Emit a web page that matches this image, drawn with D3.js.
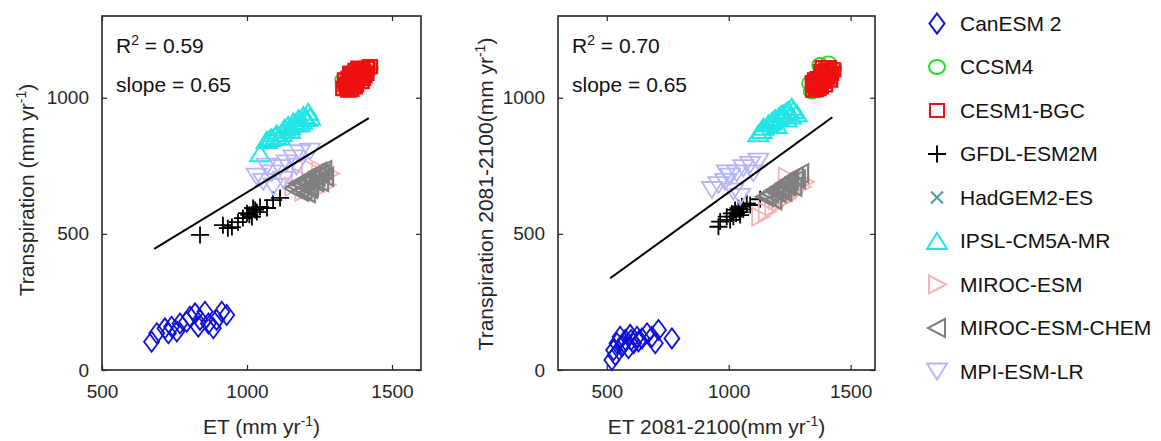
<!DOCTYPE html>
<html>
<head>
<meta charset="utf-8">
<script src="https://cdn.jsdelivr.net/npm/d3@7"></script>
<style>
  body { margin: 0; background: #fff; }
  svg { display: block; font-family: Arial, "Liberation Sans", Helvetica, sans-serif; }
</style>
</head>
<body>
<svg id="chart" width="1161" height="441"></svg>
<script>
// models, in legend order
const models = ['CanESM 2', 'CCSM4', 'CESM1-BGC', 'GFDL-ESM2M', 'HadGEM2-ES',
  'IPSL-CM5A-MR', 'MIROC-ESM', 'MIROC-ESM-CHEM', 'MPI-ESM-LR'];

const xTicksLeft = [500, 1000, 1500];
const xTicksRight = [500, 1000, 1500];
const yTicks = [0, 500, 1000];
const r2Text = ['0.59', '0.70'];
const slopeText = ['0.65', '0.65'];

// left panel: [ET, transpiration]
const canesmLeft = [[671,104],[689,135],[717,153],[740,159],[758,141],[769,171],[803,196],[821,208],[838,184],
  [855,214],[867,171],[884,153],[895,184],[913,214],[930,202],[832,159],[729,135],[792,177]];
const ccsmLeft = [[1418,1114],[1401,1102],[1332,1065],[1424,1108],[1344,1040],[1410,1095],[1340,1055]];
const cesmLeft = [[1332,1034],[1344,1047],[1355,1059],[1367,1065],[1378,1077],[1390,1089],[1401,1095],[1413,1108],
  [1424,1114],[1349,1028],[1372,1040],[1395,1059],[1338,1065],[1361,1083],[1384,1108],[1340,1050],[1355,1045],
  [1366,1052],[1380,1060],[1392,1072],[1405,1080],[1412,1090],[1398,1100],[1386,1095],[1370,1085],[1350,1072],
  [1360,1030],[1345,1038],[1362,1068],[1376,1048],[1388,1080],[1400,1070],[1356,1090],[1374,1100]];
const gfdlLeft = [[838,496],[917,532],[948,525],[934,521],[969,543],[986,558],[1000,576],[1017,562],[1021,595],
  [1034,580],[1045,599],[1069,595],[1090,624],[1114,632],[1008,570],[1028,588]];
const hadgemLeft = [];
const ipslLeft = [[1045,796],[1068,845],[1079,851],[1102,869],[1125,881],[1142,900],[1160,912],[1177,924],[1194,936],
  [1211,948],[1217,930],[1183,906],[1114,857],[1148,881],[1130,890],[1150,895],[1170,905],[1190,915],[1205,925],
  [1100,860],[1120,870],[1085,855]];
const mirocLeft = [[1160,673],[1194,655],[1229,667],[1275,679],[1286,722],[1252,734],[1217,741],[1183,710]];
const mirocChemLeft = [[1160,667],[1177,686],[1194,691],[1211,704],[1229,716],[1246,728],[1263,734],[1269,710],
  [1217,673],[1183,655],[1206,649],[1252,691],[1170,675],[1190,680],[1200,695],[1222,700],[1240,710],[1255,720],
  [1235,690],[1215,665],[1195,660]];
const mpiLeft = [[1033,710],[1056,691],[1085,722],[1114,741],[1137,759],[1160,777],[1183,796],[1217,802],[1091,673],
  [1125,698],[1171,747],[1068,747]];

// right panel: [ET 2081-2100, transpiration 2081-2100]
const canesmRight = [[521,37],[528,73],[542,98],[555,122],[576,110],[596,129],[610,98],[624,122],[644,116],[665,135],
  [685,122],[699,98],[712,147],[767,116],[562,86],[535,55],[589,80],[570,100],[600,110],[630,105]];
const ccsmRight = [[1334,1053],[1375,1120],[1409,1126],[1341,1022],[1429,1108],[1360,1040]];
const cesmRight = [[1347,1028],[1361,1047],[1375,1059],[1388,1071],[1409,1083],[1429,1102],[1354,1065],[1382,1083],
  [1416,1065],[1368,1034],[1395,1047],[1350,1045],[1365,1070],[1380,1095],[1400,1100],[1420,1090],[1390,1060],
  [1372,1050],[1405,1075],[1358,1030],[1385,1110],[1410,1110],[1345,1055],[1378,1040],[1395,1090]];
const gfdlRight = [[958,526],[965,545],[992,563],[1013,575],[1026,588],[1040,594],[1054,600],[1074,612],[1088,606],
  [1129,627],[1019,563],[1047,569],[1006,551],[1030,575],[1060,590],[1045,580]];
const hadgemRight = [];
const ipslRight = [[1136,881],[1142,893],[1163,906],[1183,918],[1204,930],[1224,943],[1245,955],[1259,967],[1279,943],
  [1238,924],[1197,900],[1122,869],[1215,940],[1235,950],[1255,935],[1175,912],[1190,925],[1265,955]];
const mirocRight = [[1129,563],[1156,581],[1183,600],[1211,618],[1238,630],[1265,649],[1300,673],[1313,691],[1238,710],
  [1197,624]];
const mirocChemRight = [[1149,636],[1170,649],[1190,661],[1211,673],[1231,686],[1252,698],[1272,710],[1293,722],
  [1183,624],[1224,655],[1265,673],[1160,640],[1200,650],[1240,675],[1280,700],[1245,690],[1215,665]];
const mpiRight = [[931,661],[958,679],[985,691],[1006,710],[1033,722],[1060,741],[1088,753],[1122,765],[1019,655],
  [1047,636],[992,722],[1101,722]];

// least-squares lines (end points)
const fitLeftX = [680, 1420], fitLeftY = [445, 925];
const fitRightX = [514, 1425], fitRightY = [337, 928];

const leftSeries = [canesmLeft, ccsmLeft, cesmLeft, gfdlLeft, hadgemLeft, ipslLeft, mirocLeft, mirocChemLeft, mpiLeft];
const rightSeries = [canesmRight, ccsmRight, cesmRight, gfdlRight, hadgemRight, ipslRight, mirocRight, mirocChemRight, mpiRight];

// marker styles
const colors = ['#1010dd', '#22dd22', '#ee1111', '#000000', '#4d9999', '#22e5e5', '#f5b5b5', '#808080', '#b5b5fa'];
const widths = [1.8, 1.8, 2.4, 1.8, 1.8, 2, 1.8, 2.2, 1.8];
const markers = {
  diamond: 'M0,-10L7.5,0L0,10L-7.5,0Z',
  circle: 'M-8,0A8,7 0 1,0 8,0A8,7 0 1,0 -8,0Z',
  square: 'M-7,-6.5H7V6.5H-7Z',
  plus: 'M-9,0H9M0,-8.5V8.5',
  cross: 'M-6,-6L6,6M-6,6L6,-6',
  tri: 'M0,-8L10,8L-10,8Z',
  triR: 'M-8,-9L9,0L-8,9Z',
  triL: 'M8,-9L-9,0L8,9Z',
  triD: 'M0,8L10,-8L-10,-8Z'
};
const markerOf = ['diamond', 'circle', 'square', 'plus', 'cross', 'tri', 'triR', 'triL', 'triD'];

const svg = d3.select('#chart');
const axisColor = '#262626';

function supText(sel, pre, sup, post, supSize) {
  sel.append('tspan').text(pre);
  sel.append('tspan').attr('dy', -8).attr('font-size', supSize).text(sup);
  if (post) sel.append('tspan').attr('dy', 8).text(post);
}

function drawPanel(opts) {
  const x = d3.scaleLinear().domain(opts.xDomain).range([opts.left, opts.right]);
  const y = d3.scaleLinear().domain([0, 1300]).range([370, 16]);
  const g = svg.append('g');

  // axes (ticks inside, box)
  const styleAxis = a => {
    a.attr('font-family', null);
    a.select('.domain').remove();
    a.selectAll('line').attr('stroke', axisColor).attr('stroke-width', 1.2);
    a.selectAll('text').attr('fill', axisColor).attr('font-size', 19);
  };
  g.append('g').attr('transform', 'translate(0,370)')
    .call(d3.axisBottom(x).tickValues(opts.xTicks).tickSize(-5).tickPadding(15).tickFormat(d3.format('d')))
    .call(styleAxis);
  g.append('g').attr('transform', 'translate(0,16)')
    .call(d3.axisTop(x).tickValues(opts.xTicks).tickSize(-5).tickFormat(''))
    .call(styleAxis);
  g.append('g').attr('transform', `translate(${opts.left},0)`)
    .call(d3.axisLeft(y).tickValues(yTicks).tickSize(-5).tickPadding(13).tickFormat(d3.format('d')))
    .call(styleAxis);
  g.append('g').attr('transform', `translate(${opts.right},0)`)
    .call(d3.axisRight(y).tickValues(yTicks).tickSize(-5).tickFormat(''))
    .call(styleAxis);

  g.append('rect')
    .attr('x', opts.left).attr('y', 16)
    .attr('width', opts.right - opts.left).attr('height', 354)
    .attr('fill', 'none').attr('stroke', axisColor).attr('stroke-width', 1.6);

  // points
  opts.series.forEach((pts, i) => {
    g.append('g').selectAll('path')
      .data(pts)
      .enter().append('path')
      .attr('d', markers[markerOf[i]])
      .attr('transform', d => `translate(${x(d[0])},${y(d[1])})`)
      .attr('fill', 'none')
      .attr('stroke', colors[i])
      .attr('stroke-width', widths[i]);
  });

  // fit line
  g.append('line')
    .attr('x1', x(opts.fitX[0])).attr('y1', y(opts.fitY[0]))
    .attr('x2', x(opts.fitX[1])).attr('y2', y(opts.fitY[1]))
    .attr('stroke', '#000').attr('stroke-width', 2);

  // annotation
  const t1 = g.append('text').attr('x', opts.left + 14).attr('y', 53)
    .attr('font-size', 21).attr('fill', '#111');
  supText(t1, 'R', '2', ' = ' + opts.r2, 14);
  g.append('text').attr('x', opts.left + 14).attr('y', 92)
    .attr('font-size', 21).attr('fill', '#111').text('slope = ' + opts.slope);

  // axis titles
  const xt = g.append('text').attr('x', (opts.left + opts.right) / 2).attr('y', 434)
    .attr('text-anchor', 'middle').attr('font-size', 21).attr('fill', axisColor);
  supText(xt, opts.xLabel, '-1', ')', 14);
  const yt = g.append('text')
    .attr('transform', `translate(${opts.yLabelX},${opts.yLabelY}) rotate(-90)`)
    .attr('text-anchor', 'middle').attr('font-size', 21).attr('fill', axisColor);
  supText(yt, opts.yLabel, '-1', ')', 14);
}

drawPanel({
  left: 102, right: 421, xDomain: [500, 1600], xTicks: xTicksLeft, series: leftSeries,
  fitX: fitLeftX, fitY: fitLeftY, r2: r2Text[0], slope: slopeText[0],
  xLabel: 'ET (mm yr', yLabel: 'Transpiration (mm yr', yLabelX: 34, yLabelY: 190
});
drawPanel({
  left: 558, right: 875, xDomain: [300, 1600], xTicks: xTicksRight, series: rightSeries,
  fitX: fitRightX, fitY: fitRightY, r2: r2Text[1], slope: slopeText[1],
  xLabel: 'ET 2081-2100(mm yr', yLabel: 'Transpiration 2081-2100(mm yr', yLabelX: 493, yLabelY: 194
});

// legend
const legend = svg.append('g').attr('transform', 'translate(937,23.5)');
const rows = legend.selectAll('g').data(models).enter().append('g')
  .attr('transform', (d, i) => `translate(0,${i * 43.5})`);
rows.append('path')
  .attr('d', (d, i) => markers[markerOf[i]])
  .attr('fill', 'none')
  .attr('stroke', (d, i) => colors[i])
  .attr('stroke-width', 2);
rows.append('text')
  .attr('x', 23).attr('dy', '0.35em')
  .attr('font-size', 21).attr('fill', '#111')
  .text(d => d);
</script>
</body>
</html>
